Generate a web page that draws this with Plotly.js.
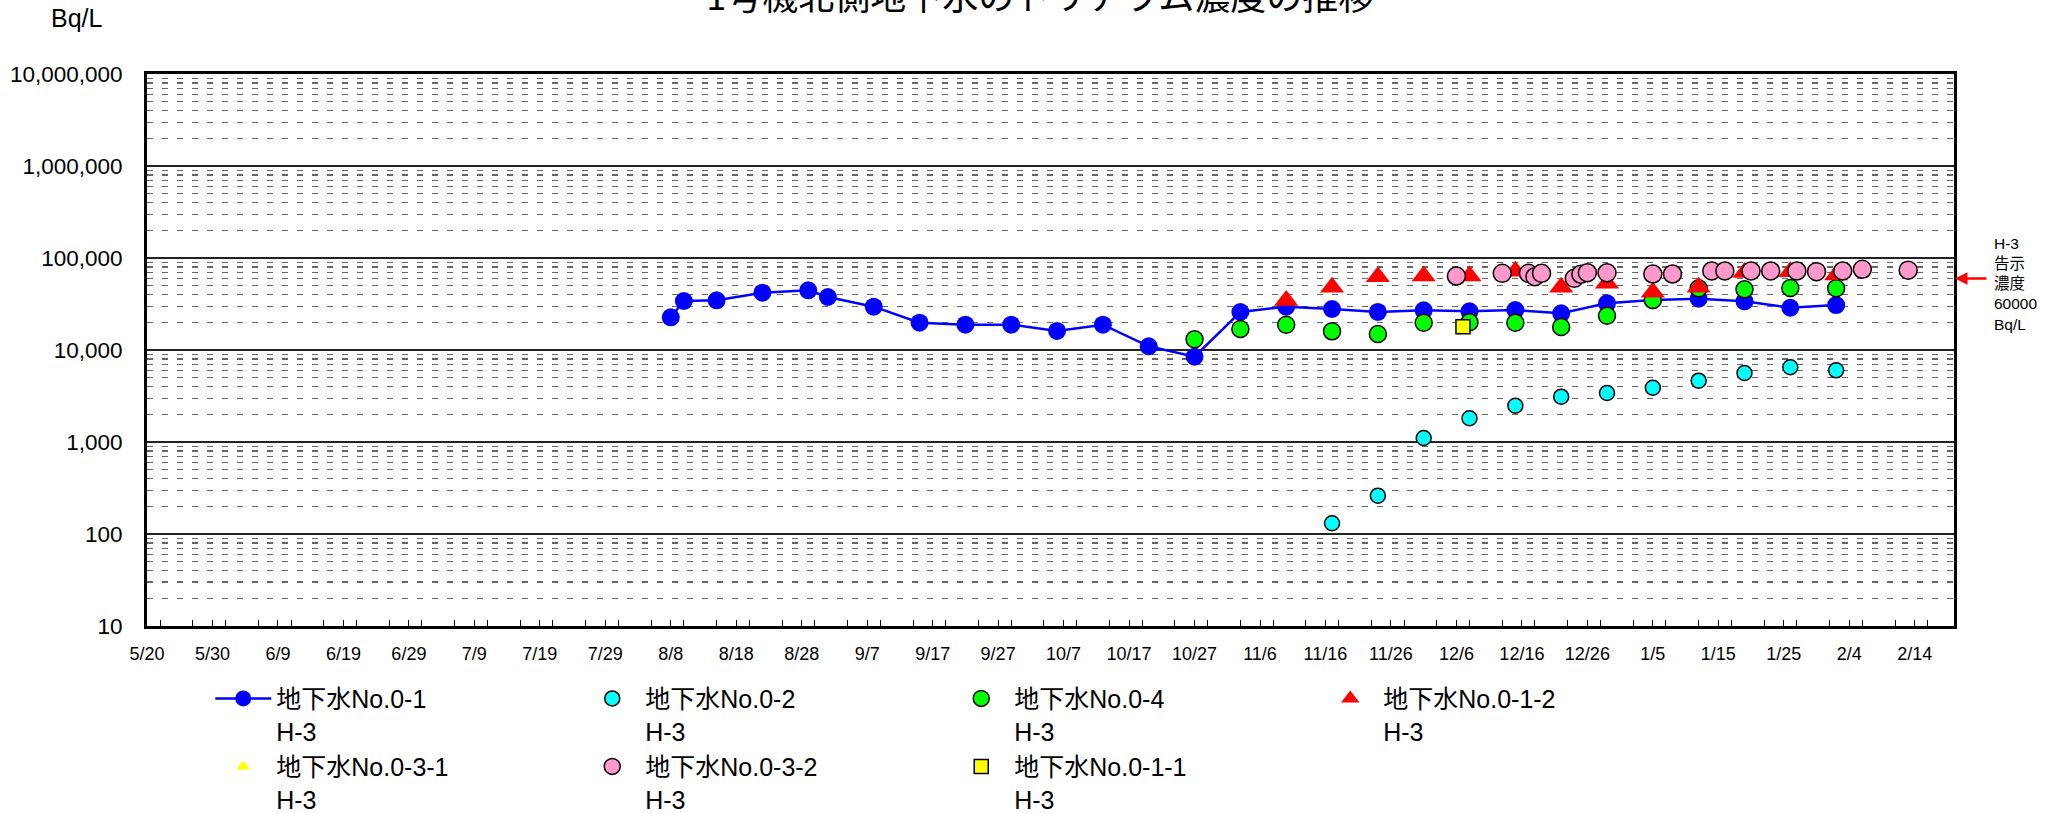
<!DOCTYPE html>
<html>
<head>
<meta charset="utf-8">
<script src="https://cdn.plot.ly/plotly-3.0.1.min.js"></script>
<style>html,body{margin:0;padding:0;background:#fff;}#chart{width:2052px;height:813px;}</style>
</head>
<body>
<div id="chart"></div>
<script>
// ---- data ----
const titleText = '1号機北側地下水のトリチウム濃度の推移';
const yUnit = 'Bq/L';
const limitValue = 60000;
const limitLabel = 'H-3<br>告示<br>濃度<br>60000<br>Bq/L';

const names = [
  '地下水No.0-1<br>H-3',
  '地下水No.0-2<br>H-3',
  '地下水No.0-4<br>H-3',
  '地下水No.0-1-2<br>H-3',
  '地下水No.0-3-1<br>H-3',
  '地下水No.0-3-2<br>H-3',
  '地下水No.0-1-1<br>H-3'
];

const no01Dates = ['2013-08-08','2013-08-10','2013-08-15','2013-08-22','2013-08-29','2013-09-01','2013-09-08','2013-09-15','2013-09-22','2013-09-29','2013-10-06','2013-10-13','2013-10-20','2013-10-27','2013-11-03','2013-11-10','2013-11-17','2013-11-24','2013-12-01','2013-12-08','2013-12-15','2013-12-22','2013-12-29','2014-01-05','2014-01-12','2014-01-19','2014-01-26','2014-02-02'];
const no01Values = [22650,34100,34650,41950,44580,37670,29570,19810,18850,18850,16100,18850,10960,8450,25880,29570,27900,25900,27000,26370,27200,25050,32200,34900,36100,33800,28800,30800];

const no02Dates = ['2013-11-17','2013-11-24','2013-12-01','2013-12-08','2013-12-15','2013-12-22','2013-12-29','2014-01-05','2014-01-12','2014-01-19','2014-01-26','2014-02-02'];
const no02Values = [131,261,1105,1810,2480,3110,3410,3890,4640,5620,6490,6010];

const no04Dates = ['2013-10-27','2013-11-03','2013-11-10','2013-11-17','2013-11-24','2013-12-01','2013-12-08','2013-12-15','2013-12-22','2013-12-29','2014-01-05','2014-01-12','2014-01-19','2014-01-26','2014-02-02'];
const no04Values = [13060,16900,18800,15950,14930,19800,20000,19800,17800,23600,34900,46900,45700,47200,46900];

const no012Dates = ['2013-11-10','2013-11-17','2013-11-24','2013-12-01','2013-12-08','2013-12-15','2013-12-22','2013-12-29','2014-01-05','2014-01-12','2014-01-19','2014-01-26','2014-02-02'];
const no012Values = [34500,48000,62600,63700,63700,72000,48000,53000,42500,48000,69500,71000,65300];

// No.0-3-1 has no plotted values in the chart (legend entry only)
const no031Dates = [null];
const no031Values = [null];

const no032Dates = ['2013-12-06','2013-12-13','2013-12-17','2013-12-18','2013-12-19','2013-12-24','2013-12-25','2013-12-26','2013-12-29','2014-01-05','2014-01-08','2014-01-14','2014-01-16','2014-01-20','2014-01-23','2014-01-27','2014-01-30','2014-02-03','2014-02-06','2014-02-13'];
const no032Values = [63700,68100,68100,62600,68100,60100,66600,69200,69200,67000,67000,72300,72300,72300,72300,72300,71000,72300,75400,73800];

const no011Dates = ['2013-12-07'];
const no011Values = [17900];

const xStart = '2013-05-20';
const xEnd = '2014-02-20';

// ---- chart ----
const FONT = 'Liberation Sans, Arial, Noto Sans CJK JP, sans-serif';
const blk = {color:'#000', width:1.5};

const traces = [
  {x:no01Dates, y:no01Values, name:names[0], type:'scatter', mode:'lines+markers',
   line:{color:'#0000ff', width:2.5}, marker:{color:'#0000ff', size:18, symbol:'circle'}},
  {x:no02Dates, y:no02Values, name:names[1], type:'scatter', mode:'markers',
   marker:{color:'#00ffff', size:15, symbol:'circle', line:blk}},
  {x:no04Dates, y:no04Values, name:names[2], type:'scatter', mode:'markers',
   marker:{color:'#00ff00', size:17, symbol:'circle', line:blk}},
  {x:no012Dates, y:no012Values, name:names[3], type:'scatter', mode:'markers',
   marker:{color:'#ff0000', size:21, symbol:'triangle-up'}},
  {x:no031Dates, y:no031Values, name:names[4], type:'scatter', mode:'markers',
   marker:{color:'#ffff00', size:12, symbol:'triangle-up'}},
  {x:no032Dates, y:no032Values, name:names[5], type:'scatter', mode:'markers',
   marker:{color:'#ff99cc', size:18, symbol:'circle', line:blk}},
  {x:no011Dates, y:no011Values, name:names[6], type:'scatter', mode:'markers',
   marker:{color:'#ffff00', size:14, symbol:'square', line:blk}}
];

const DAY = 86400000;
const layout = {
  width:2052, height:813,
  paper_bgcolor:'#fff', plot_bgcolor:'#fff',
  margin:{l:147, r:98, t:74, b:187, autoexpand:false},
  font:{family:FONT, color:'#000'},
  showlegend:true,
  title:{text:titleText, font:{family:'Noto Sans CJK JP, sans-serif', size:36, color:'#000'},
         xref:'container', x:0.507, xanchor:'center', yref:'paper', y:1, yanchor:'bottom', pad:{b:64}},
  xaxis:{type:'date', range:[xStart, xEnd], tick0:xStart, dtick:10*DAY, tickformat:'%-m/%-d',
         ticks:'inside', ticklen:6, tickwidth:1, tickcolor:'#000',
         showgrid:false, zeroline:false, showline:true, linecolor:'#000', linewidth:3, mirror:true,
         tickfont:{size:18, family:FONT}, ticklabelstandoff:9,
         minor:{dtick:5*DAY, ticks:'inside', ticklen:6, tickwidth:1, tickcolor:'#000', showgrid:false}},
  yaxis:{type:'log', range:[1,7], dtick:1, tickformat:',d',
         ticks:'', showgrid:true, gridcolor:'#222', gridwidth:2.5,
         zeroline:false, showline:true, linecolor:'#000', linewidth:3, mirror:true,
         tickfont:{size:22.5, family:FONT}, ticklabelstandoff:17,
         minor:{dtick:'D1', showgrid:true, gridcolor:'#666', gridwidth:1.2, griddash:'6px,9px', ticks:''}},
  legend:{orientation:'h', x:0.035, xanchor:'left', y:-0.090, yanchor:'top',
          font:{size:25, family:FONT, color:'#000'}, valign:'top', itemwidth:56,
          entrywidth:298, entrywidthmode:'pixels', bgcolor:'rgba(0,0,0,0)', borderwidth:0},
  annotations:[
    {xref:'paper', yref:'paper', x:-0.0387, y:1.1014, xanchor:'center', yanchor:'middle',
     text:yUnit, showarrow:false, font:{size:25, family:FONT}},
    {xref:'paper', yref:'paper', x:1.021, y:0.6187, xanchor:'left', yanchor:'middle', align:'left',
     text:limitLabel, showarrow:false, font:{size:15.5, family:FONT}},
    {xref:'paper', yref:'y', x:1, y:Math.log10(limitValue), text:'', showarrow:true,
     ax:34, ay:0, arrowcolor:'#ff0000', arrowwidth:2.5, arrowhead:2, arrowsize:1, standoff:1}
  ]
};

Plotly.newPlot('chart', traces, layout, {displayModeBar:false, staticPlot:true});
</script>
</body>
</html>
